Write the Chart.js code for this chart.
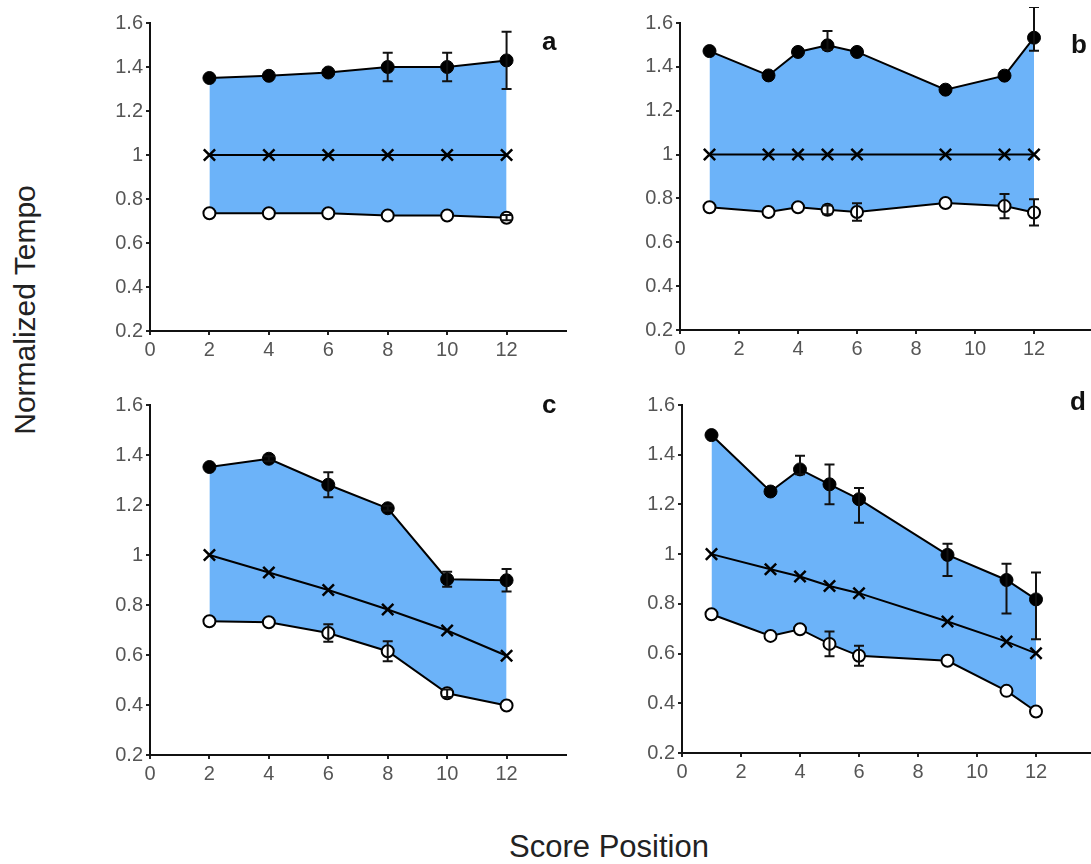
<!DOCTYPE html>
<html lang="en">
<head>
    <meta charset="UTF-8">
    <title>Normalized Tempo vs Score Position</title>
    <script src="https://cdn.jsdelivr.net/npm/chart.js"></script>
    <style>
        html, body {
            margin: 0;
            padding: 0;
            width: 1091px;
            height: 864px;
            overflow: hidden;
            background: #fff;
            font-family: "Liberation Sans", Arial, sans-serif;
        }
        canvas { position: absolute; }
        .letter {
            position: absolute;
            font-weight: bold;
            font-size: 26px;
            color: #111;
            line-height: 1;
        }
        #ytitle {
            position: absolute;
            left: 25px;
            top: 310px;
            transform: translate(-50%, -50%) rotate(-90deg);
            font-size: 30px;
            color: #222;
            white-space: nowrap;
        }
        #xtitle {
            position: absolute;
            left: 609px;
            top: 829px;
            transform: translateX(-50%);
            font-size: 31px;
            color: #222;
            white-space: nowrap;
        }
    </style>
</head>
<body>

    <canvas id="panelA"></canvas>
    <canvas id="panelB"></canvas>
    <canvas id="panelC"></canvas>
    <canvas id="panelD"></canvas>

    <div class="letter" style="left:542px; top:28px;">a</div>
    <div class="letter" style="left:1071px; top:31px;">b</div>
    <div class="letter" style="left:542px; top:391px;">c</div>
    <div class="letter" style="left:1070px; top:388px;">d</div>

    <div id="ytitle">Normalized Tempo</div>
    <div id="xtitle">Score Position</div>

    <script>
        // Panel a
        const xA = [2, 4, 6, 8, 10, 12];
        const fastA = [1.35, 1.36, 1.375, 1.40, 1.40, 1.43];
        const fastErrA = [0, 0, 0, 0.065, 0.065, 0.13];
        const scoreA = [1, 1, 1, 1, 1, 1];
        const slowA = [0.735, 0.735, 0.735, 0.725, 0.725, 0.715];
        const slowErrA = [0, 0, 0, 0, 0, 0.012];

        // Panel b
        const xB = [1, 3, 4, 5, 6, 9, 11, 12];
        const fastB = [1.472, 1.361, 1.468, 1.498, 1.468, 1.296, 1.36, 1.533];
        const fastErrHiB = [0, 0, 0, 0.065, 0, 0, 0, 0.14];
        const fastErrLoB = [0, 0, 0, 0.02, 0, 0, 0, 0.06];
        const scoreB = [1, 1, 1, 1, 1, 1, 1, 1];
        const slowB = [0.76, 0.738, 0.76, 0.748, 0.738, 0.779, 0.765, 0.736];
        const slowErrB = [0, 0, 0, 0.02, 0.04, 0, 0.055, 0.06];

        // Panel c
        const xC = [2, 4, 6, 8, 10, 12];
        const fastC = [1.352, 1.385, 1.281, 1.187, 0.903, 0.899];
        const fastErrC = [0, 0.01, 0.05, 0.01, 0.03, 0.045];
        const scoreC = [1.0, 0.93, 0.86, 0.782, 0.698, 0.597];
        const slowC = [0.735, 0.731, 0.688, 0.615, 0.447, 0.398];
        const slowErrC = [0, 0, 0.035, 0.04, 0.015, 0];

        // Panel d
        const xD = [1, 3, 4, 5, 6, 9, 11, 12];
        const fastD = [1.479, 1.252, 1.341, 1.281, 1.221, 0.997, 0.896, 0.818];
        const fastErrHiD = [0, 0, 0.055, 0.08, 0.045, 0.045, 0.065, 0.108];
        const fastErrLoD = [0, 0, 0.02, 0.08, 0.095, 0.085, 0.135, 0.16];
        const scoreD = [1.0, 0.939, 0.91, 0.872, 0.843, 0.729, 0.648, 0.601];
        const slowD = [0.758, 0.671, 0.698, 0.639, 0.591, 0.571, 0.45, 0.367];
        const slowErrD = [0, 0, 0, 0.05, 0.04, 0, 0, 0];

        const yTicks = [0.2, 0.4, 0.6, 0.8, 1, 1.2, 1.4, 1.6];
        const xTicks = [0, 2, 4, 6, 8, 10, 12];

        const fillBlue = '#6cb3f9';
        const Y_AXIS_W = 60, X_AXIS_H = 40, PAD = 16;

        function pts(xs, ys) {
            return xs.map((x, i) => ({ x: x, y: ys[i] }));
        }

        // vertical error bars with caps, placed through the chart scales
        const errorBars = {
            id: 'errorBars',
            afterDatasetsDraw(chart) {
                const ctx = chart.ctx;
                const xs = chart.scales.x, ys = chart.scales.y;
                ctx.save();
                ctx.strokeStyle = '#111';
                ctx.lineWidth = 2;
                chart.data.datasets.forEach(ds => {
                    if (!ds.errHi) return;
                    ds.data.forEach((p, i) => {
                        const hi = ds.errHi[i], lo = ds.errLo[i];
                        if (!hi && !lo) return;
                        const px = xs.getPixelForValue(p.x);
                        const top = ys.getPixelForValue(p.y + hi);
                        const bot = ys.getPixelForValue(p.y - lo);
                        ctx.beginPath();
                        ctx.moveTo(px, top); ctx.lineTo(px, bot);
                        if (hi) { ctx.moveTo(px - 5, top); ctx.lineTo(px + 5, top); }
                        if (lo) { ctx.moveTo(px - 5, bot); ctx.lineTo(px + 5, bot); }
                        ctx.stroke();
                    });
                });
                ctx.restore();
            }
        };

        function makePanel(id, area, xs, fast, fHi, fLo, score, slow, sErr) {
            const cv = document.getElementById(id);
            const left = area.left - Y_AXIS_W;
            const top = area.top - PAD;
            const w = area.right + PAD - left;
            const h = area.bottom + X_AXIS_H - top;
            cv.style.left = left + 'px';
            cv.style.top = top + 'px';
            cv.style.width = w + 'px';
            cv.style.height = h + 'px';
            cv.width = w; cv.height = h;

            const tickFont = { family: '"Liberation Sans", Arial, sans-serif', size: 20 };

            new Chart(cv.getContext('2d'), {
                type: 'line',
                data: {
                    datasets: [
                        {
                            label: 'fast',
                            data: pts(xs, fast),
                            borderColor: '#000',
                            borderWidth: 2,
                            backgroundColor: fillBlue,
                            pointBackgroundColor: '#000',
                            pointBorderColor: '#000',
                            pointRadius: 6.5,
                            pointBorderWidth: 1,
                            fill: { target: 2 },
                            errHi: fHi, errLo: fLo,
                            clip: false
                        },
                        {
                            label: 'score',
                            data: pts(xs, score),
                            borderColor: '#000',
                            borderWidth: 2,
                            pointStyle: 'crossRot',
                            pointRadius: 8,
                            pointBorderWidth: 2.5,
                            pointBorderColor: '#000',
                            fill: false,
                            clip: false
                        },
                        {
                            label: 'slow',
                            data: pts(xs, slow),
                            borderColor: '#000',
                            borderWidth: 2,
                            pointBackgroundColor: '#fff',
                            pointBorderColor: '#000',
                            pointRadius: 6,
                            pointBorderWidth: 2,
                            fill: false,
                            errHi: sErr, errLo: sErr,
                            clip: false
                        }
                    ]
                },
                options: {
                    responsive: false,
                    animation: false,
                    layout: { padding: { left: 0, right: PAD, top: PAD, bottom: 0 } },
                    plugins: {
                        legend: { display: false },
                        tooltip: { enabled: false },
                        filler: { drawTime: 'beforeDatasetsDraw' }
                    },
                    scales: {
                        x: {
                            type: 'linear',
                            min: 0, max: 14,
                            afterBuildTicks: s => { s.ticks = xTicks.concat([14]).map(v => ({ value: v })); },
                            afterFit: s => { s.height = X_AXIS_H; },
                            ticks: {
                                color: '#555',
                                font: tickFont,
                                padding: 3,
                                maxRotation: 0,
                                autoSkip: false,
                                callback: v => (v === 14 ? null : String(v))
                            },
                            grid: { drawOnChartArea: false, drawTicks: true, tickLength: 4, color: '#222', lineWidth: 2 },
                            border: { color: '#111', width: 2 }
                        },
                        y: {
                            type: 'linear',
                            min: 0.2, max: 1.6,
                            afterBuildTicks: s => { s.ticks = yTicks.map(v => ({ value: v })); },
                            afterFit: s => { s.width = Y_AXIS_W; },
                            ticks: {
                                color: '#555',
                                font: tickFont,
                                padding: 3,
                                autoSkip: false,
                                callback: v => String(+v.toFixed(1))
                            },
                            grid: { drawOnChartArea: false, drawTicks: true, tickLength: 4, color: '#222', lineWidth: 2 },
                            border: { color: '#111', width: 2 }
                        }
                    }
                },
                plugins: [errorBars]
            });
        }

        makePanel('panelA', { left: 150, right: 566, top: 23, bottom: 331 },
            xA, fastA, fastErrA, fastErrA, scoreA, slowA, slowErrA);
        makePanel('panelB', { left: 680, right: 1093, top: 23, bottom: 330 },
            xB, fastB, fastErrHiB, fastErrLoB, scoreB, slowB, slowErrB);
        makePanel('panelC', { left: 150, right: 566, top: 405, bottom: 755 },
            xC, fastC, fastErrC, fastErrC, scoreC, slowC, slowErrC);
        makePanel('panelD', { left: 682, right: 1095, top: 405, bottom: 753 },
            xD, fastD, fastErrHiD, fastErrLoD, scoreD, slowD, slowErrD);
    </script>
</body>
</html>
